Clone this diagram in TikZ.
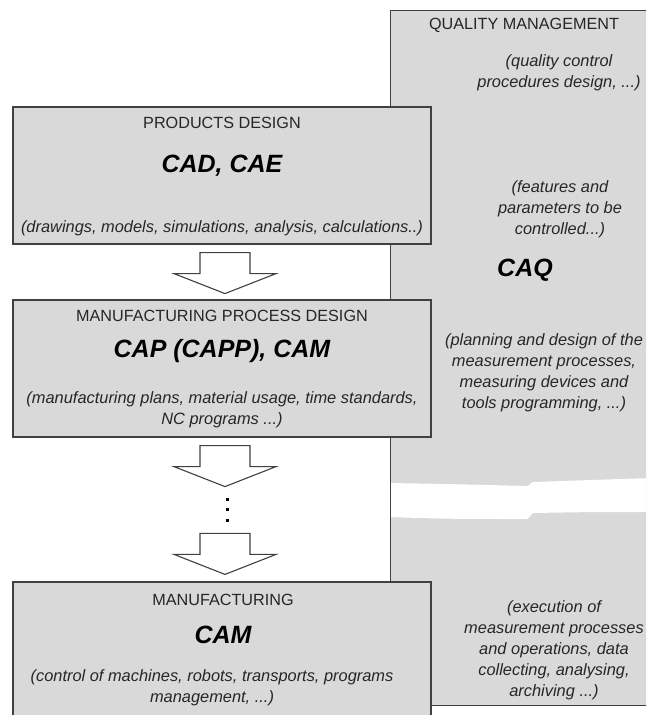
\documentclass[tikz,border=0pt]{standalone}
\usepackage{fontspec}
\setmainfont{Liberation Sans}
\usetikzlibrary{calc}

\definecolor{boxfill}{HTML}{D9D9D9}
\definecolor{edge}{HTML}{404040}
\definecolor{ink}{HTML}{262626}

\tikzset{
  panel/.style={draw=edge, fill=boxfill, line width=1.2pt, rectangle, inner sep=0pt},
  blockarrow/.style={draw=edge, fill=white, line width=1.1pt, line join=miter},
  heading/.style={text=ink, inner sep=0pt, font=\fontsize{16.2}{20}\selectfont},
  acronym/.style={text=black, inner sep=0pt, font=\fontsize{25}{30}\selectfont\bfseries\itshape},
  remark/.style={text=ink, inner sep=0pt, align=center, font=\fontsize{16.4}{21}\selectfont\itshape},
  gapdot/.style={fill=black, inner sep=0pt, minimum size=3pt, rectangle}
}

% a hollow block arrow pointing down, hanging from the given top centre point
\newcommand{\blockdown}[1]{%
  \draw[blockarrow] (#1) ++(-25,0) -- ++(50,0) -- ++(0,21) -- ++(26,0)
    -- ++(-51,20) -- ++(-51,-20) -- ++(26,0) -- cycle;}

\begin{document}
\begin{tikzpicture}[x=1pt,y=-1pt]
  \path[use as bounding box, clip] (0,0) rectangle (646,715);

  % quality management column
  \node[panel, draw=none, minimum width=269, minimum height=694] (qm) at (525.5,358) {};
  % torn gap in the column
  \fill[white] (388,483) .. controls (450,484) .. (527,486)
    .. controls (530,486) and (530,482) .. (534,482)
    .. controls (590,480) .. (652,478)
    -- (652,512)
    .. controls (590,512) .. (534,513)
    .. controls (530,513) and (530,519) .. (527,519)
    .. controls (450,519) .. (388,517) -- cycle;
  \draw[edge, line width=1.2pt] (qm.north east) -- (qm.north west)
    -- (qm.south west) -- (qm.south east);

  \node[heading] (qmtitle) at (524,25) {QUALITY MANAGEMENT};
  \node[remark] (qm1) at (559,73) {(quality control\\procedures design, ...)};
  \node[remark] (qm2) at (560,209) {(features and\\parameters to be\\controlled...)};
  \node[acronym] (caq) at (525,270) {CAQ};
  \node[remark] (qm3) at (544,373) {(planning and design of the\\measurement processes,\\measuring devices and\\tools programming, ...)};
  \node[remark] (qm4) at (554,650) {(execution of\\measurement processes\\and operations, data\\collecting, analysing,\\archiving ...)};

  % products design
  \node[panel, minimum width=418, minimum height=137] (pd) at (222,175.5) {};
  \node[heading] (pdtitle) at (222,123) {PRODUCTS DESIGN};
  \node[acronym] (pdacr) at (222,166) {CAD, CAE};
  \node[remark] (pdnote) at (222,228) {(drawings, models, simulations, analysis, calculations..)};

  % manufacturing process design
  \node[panel, minimum width=418, minimum height=137] (mpd) at (222,368.5) {};
  \node[heading] (mpdtitle) at (222,316) {MANUFACTURING PROCESS DESIGN};
  \node[acronym] (mpdacr) at (222,351) {CAP (CAPP), CAM};
  \node[remark] (mpdnote) at (222,410) {(manufacturing plans, material usage, time standards,\\NC programs ...)};

  % manufacturing
  \node[panel, minimum width=418, minimum height=150] (mf) at (222,657) {};
  \node[heading] (mftitle) at (223,600) {MANUFACTURING};
  \node[acronym] (mfacr) at (223,635) {CAM};
  \node[remark] (mfnote) at (212,688) {(control of machines, robots, transports, programs\\management, ...)};

  % flow between the stages
  \coordinate (a1) at ($(pd.south)+(3,8)$);
  \coordinate (a2) at ($(mpd.south)+(3,8)$);
  \coordinate (a3) at ($(mf.north)+(3,-48)$);
  \blockdown{a1}
  \blockdown{a2}
  \blockdown{a3}
  \node[gapdot] (d1) at (227,499) {};
  \node[gapdot] (d2) at (227,509) {};
  \node[gapdot] (d3) at (227,520) {};
\end{tikzpicture}
\end{document}
